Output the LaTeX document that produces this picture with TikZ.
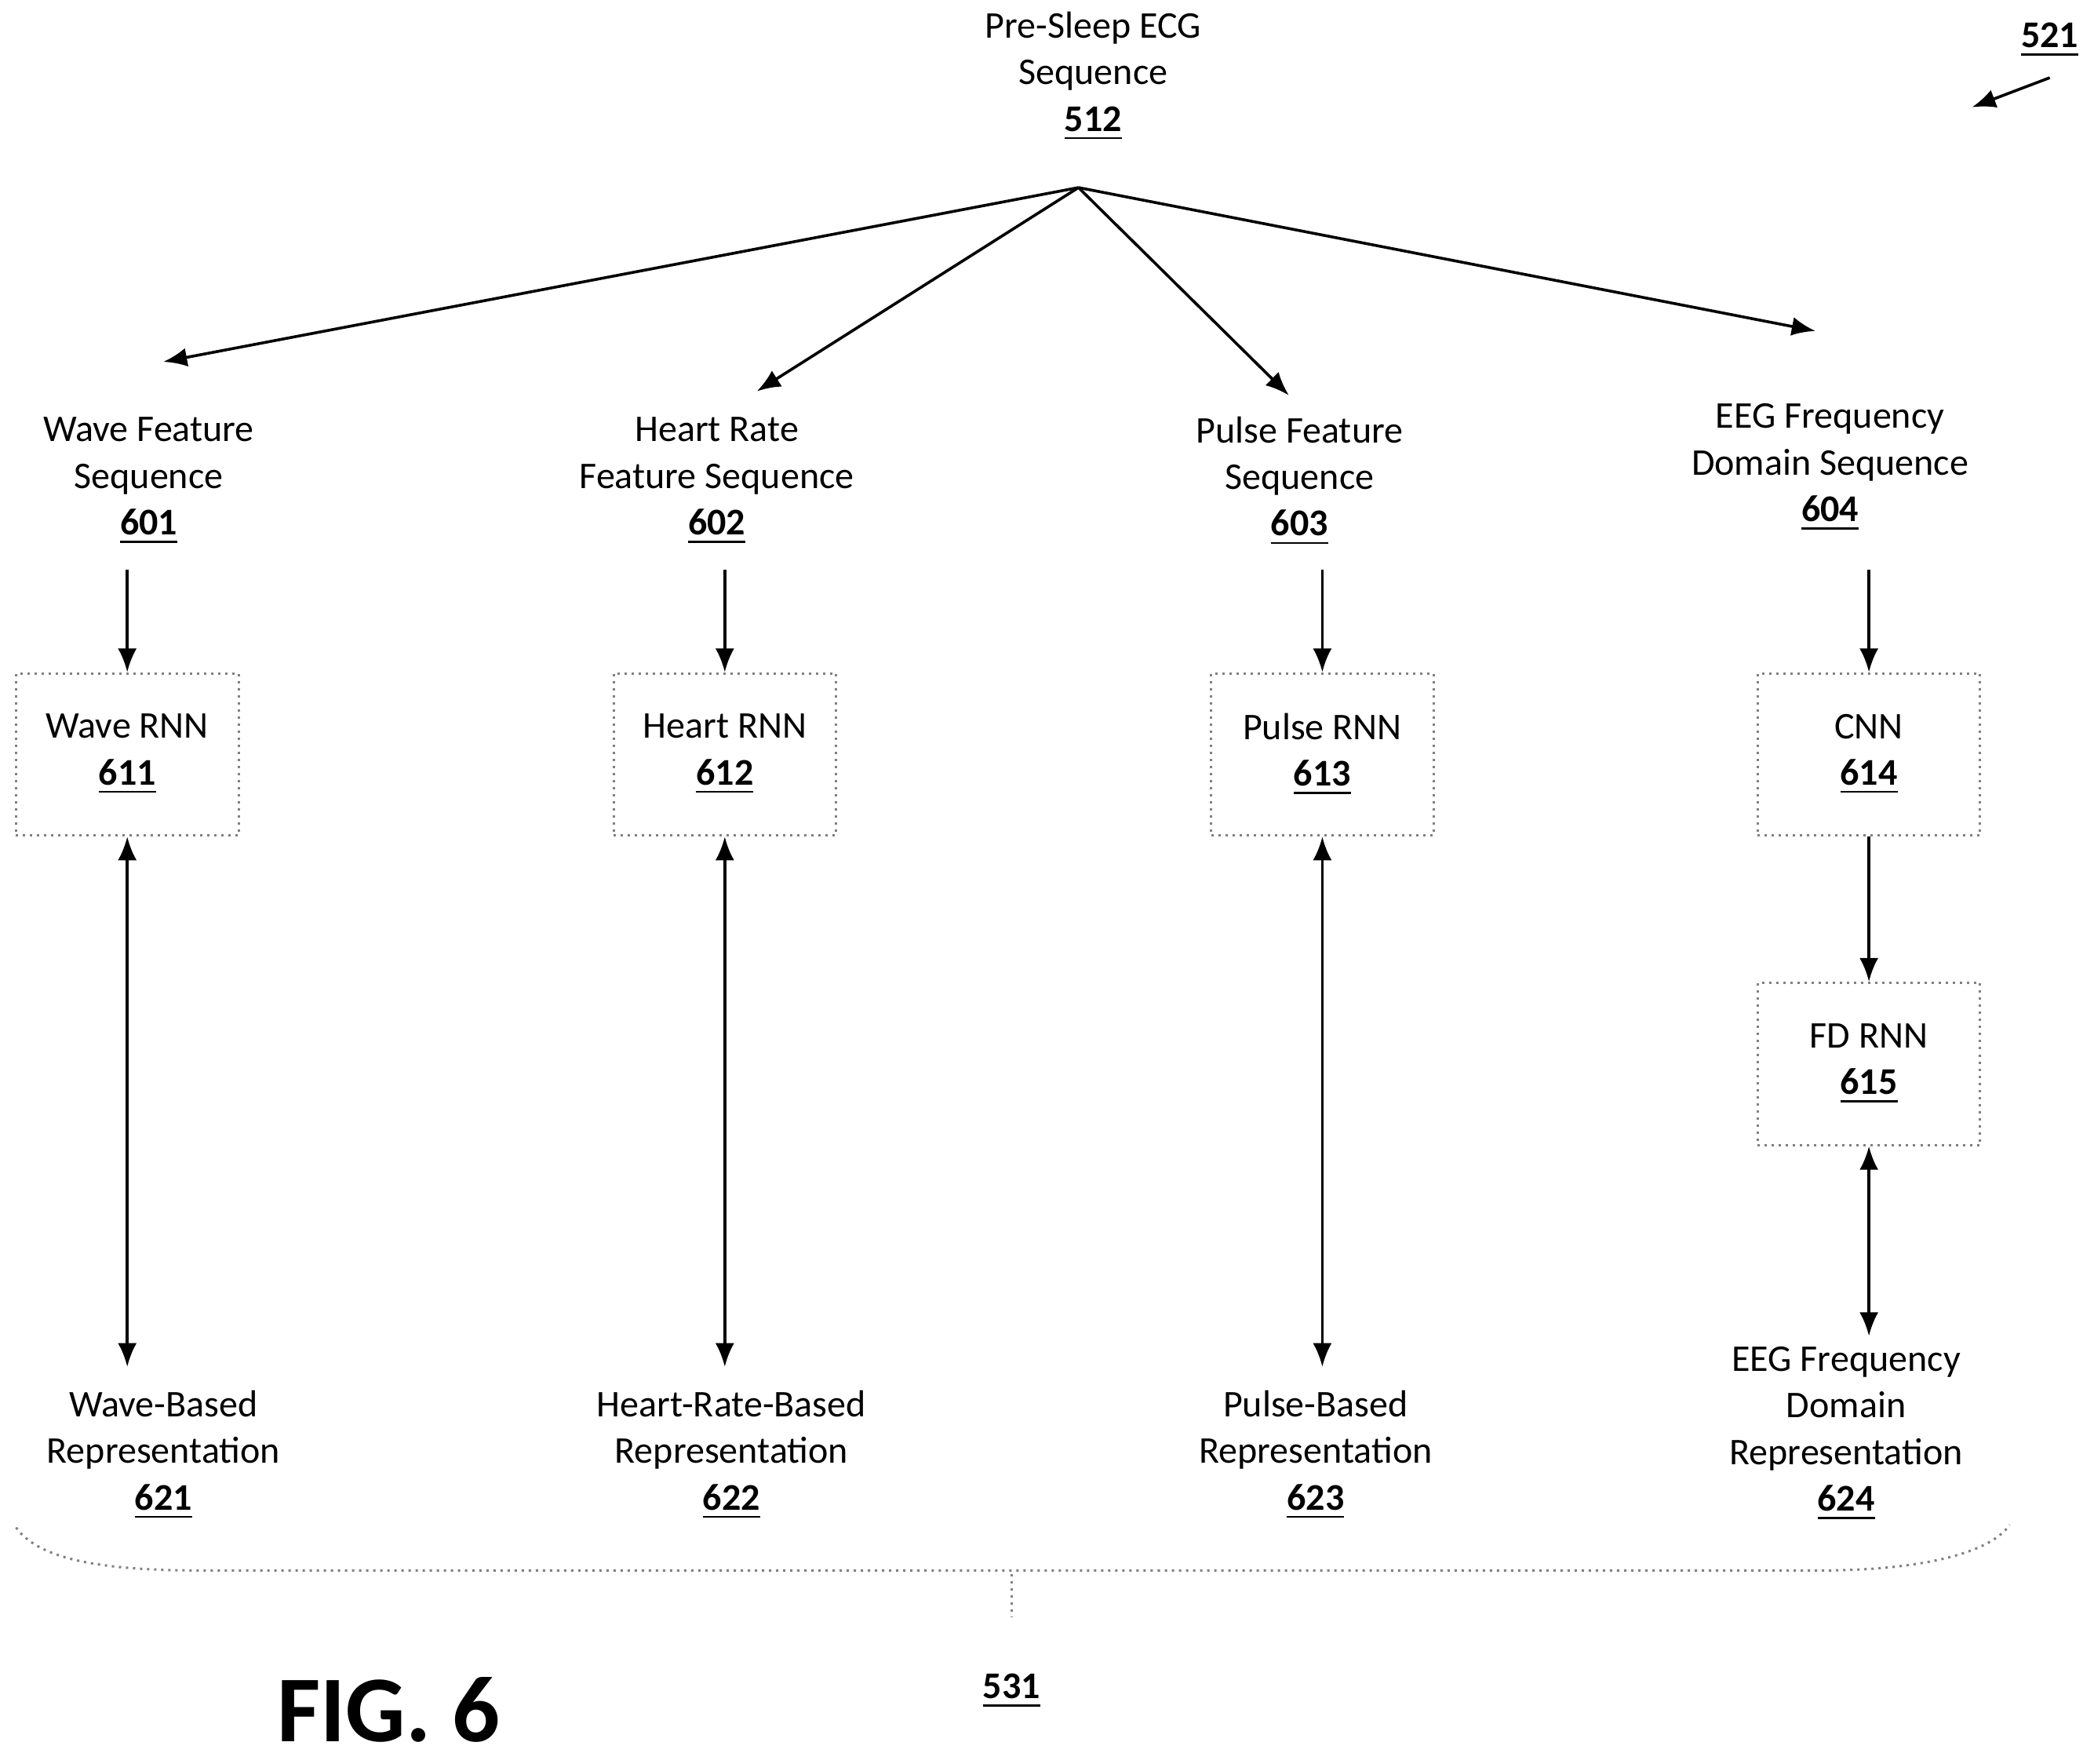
\documentclass[tikz,border=0pt]{standalone}
\usepackage{fontspec}
\setmainfont{Carlito}
\usetikzlibrary{arrows.meta}
\newcommand{\rn}[1]{\textbf{\underline{#1}}}
\begin{document}
\begin{tikzpicture}[x=0.01cm,y=-0.01cm,
  lbl/.style={align=center,font=\fontsize{8}{9.9}\selectfont,inner sep=0pt},
  box/.style={draw=gray,densely dotted,line width=0.5pt,minimum width=1.66cm,minimum height=1.21cm,align=center,font=\fontsize{8}{9.9}\selectfont},
  arr/.style={-{Latex[length=5pt,width=4pt]},line width=0.6pt},
  darr/.style={{Latex[length=5pt,width=4pt]}-{Latex[length=5pt,width=4pt]},line width=0.6pt}]
\useasboundingbox (0,0) rectangle (1563,1316);
\node[lbl] (s512) at (816,57) {Pre-Sleep ECG\\Sequence\\\rn{512}};
\coordinate (top) at (805,140);
\coordinate (e1) at (122,270);\coordinate (e2) at (565,292);\coordinate (e3) at (962,295);\coordinate (e4) at (1355,247);
\foreach \e in {e1,e2,e3,e4}\draw[arr] (top)--(\e);
\node[lbl] (n601) at (111,359) {Wave Feature\\Sequence\\\rn{601}};
\node[lbl] (n602) at (535,359) {Heart Rate\\Feature Sequence\\\rn{602}};
\node[lbl] (n603) at (970,359) {Pulse Feature\\Sequence\\\rn{603}};
\node[lbl] (n604) at (1366,349) {EEG Frequency\\Domain Sequence\\\rn{604}};
\node[box] (b611) at (95,563) {Wave RNN\\\rn{611}};
\node[box] (b612) at (541,563) {Heart RNN\\\rn{612}};
\node[box] (b613) at (987,563) {Pulse RNN\\\rn{613}};
\node[box] (b614) at (1395,563) {CNN\\\rn{614}};
\node[box] (b615) at (1395,794) {FD RNN\\\rn{615}};
\coordinate (t1) at (95,425);\coordinate (t2) at (541,425);\coordinate (t3) at (987,425);\coordinate (t4) at (1395,425);
\draw[arr] (t1)--(b611.north);\draw[arr] (t2)--(b612.north);\draw[arr] (t3)--(b613.north);\draw[arr] (t4)--(b614.north);
\draw[arr] (b614.south)--(b615.north);
\node[lbl] (n621) at (122,1086) {Wave-Based\\Representation\\\rn{621}};
\node[lbl] (n622) at (546,1086) {Heart-Rate-Based\\Representation\\\rn{622}};
\node[lbl] (n623) at (982,1086) {Pulse-Based\\Representation\\\rn{623}};
\node[lbl] (n624) at (1378,1070) {EEG Frequency\\Domain\\Representation\\\rn{624}};
\coordinate (d1) at (95,1020);\coordinate (d2) at (541,1020);\coordinate (d3) at (987,1020);\coordinate (d4) at (1395,997);
\draw[darr] (b611.south)--(d1);\draw[darr] (b612.south)--(d2);\draw[darr] (b613.south)--(d3);\draw[darr] (b615.south)--(d4);
\draw[gray,densely dotted,line width=0.5pt] (12,1140) .. controls (30,1165) and (80,1172) .. (150,1172) -- (1360,1172) .. controls (1430,1172) and (1485,1160) .. (1500,1138);
\coordinate (bt) at (755,1175);\coordinate (bb) at (755,1207);
\draw[gray,densely dotted,line width=0.5pt] (bt)--(bb);
\node[lbl] (n531) at (755,1262) {\rn{531}};
\node[font=\bfseries\fontsize{20}{22}\selectfont,inner sep=0pt] (fig) at (290,1276) {FIG. 6};
\node[lbl] (n521) at (1530,30) {\rn{521}};
\coordinate (a521) at (1530,58);\coordinate (a521e) at (1472,80);
\draw[arr] (a521)--(a521e);
\end{tikzpicture}
\end{document}
